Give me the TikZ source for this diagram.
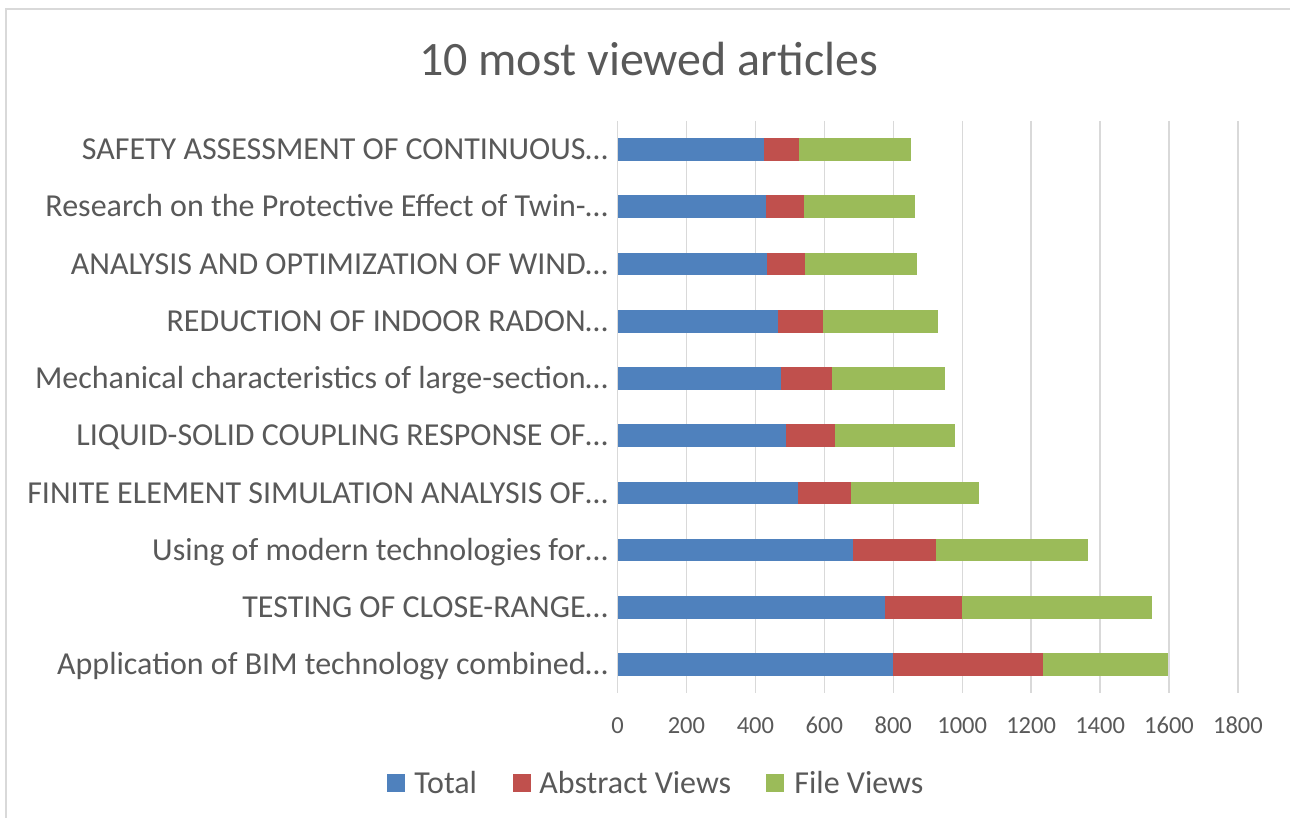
\documentclass[tikz,border=0pt]{standalone}
\usepackage{fontspec}
\setmainfont{Carlito}
\usepackage{xcolor}
\usepackage{tikz}
\usetikzlibrary{positioning}

\definecolor{total}{HTML}{4F81BD}
\definecolor{abstract}{HTML}{C0504D}
\definecolor{fileviews}{HTML}{9BBB59}
\definecolor{txtgray}{HTML}{595959}
\definecolor{gridgray}{HTML}{D9D9D9}

\begin{document}
\begin{tikzpicture}[
    x=1pt, y=-1pt,
    title/.style={
        anchor=base, text=txtgray, inner sep=0pt,
        font=\fontsize{48}{52}\selectfont
    },
    catlabel/.style={
        anchor=base east, xshift=-9.5pt, text=txtgray, inner sep=0pt,
        font=\fontsize{32}{38}\selectfont
    },
    tick/.style={
        anchor=base, text=txtgray, inner sep=0pt,
        font=\fontsize{24.5}{28}\selectfont
    },
    key/.style={
        rectangle, minimum size=18pt, inner sep=0pt
    },
    keytext/.style={
        anchor=west, text=txtgray, inner sep=0pt,
        font=\fontsize{32}{36}\selectfont
    },
    grid/.style={
        draw=gridgray, line width=1.3pt
    }
]
\useasboundingbox (0,0) rectangle (1290,818);

% Frame
\draw[gridgray, line width=1.5pt] (6,818) -- (6,9) -- (1290,9);

% Title
\node[title] (title) at (648.5,76) {10 most viewed articles};

\begin{scope}[shift={(617.5,0)}, x=0.3447pt]

% Grid lines
\draw[grid] (0,121) -- (0,693);
\draw[grid] (200,121) -- (200,693);
\draw[grid] (400,121) -- (400,693);
\draw[grid] (600,121) -- (600,693);
\draw[grid] (800,121) -- (800,693);
\draw[grid] (1000,121) -- (1000,693);
\draw[grid] (1200,121) -- (1200,693);
\draw[grid] (1400,121) -- (1400,693);
\draw[grid] (1600,121) -- (1600,693);
\draw[grid] (1800,121) -- (1800,693);

% Axis numbers
\node[tick] (t0) at (0,733) {0};
\node[tick] (t200) at (200,733) {200};
\node[tick] (t400) at (400,733) {400};
\node[tick] (t600) at (600,733) {600};
\node[tick] (t800) at (800,733) {800};
\node[tick] (t1000) at (1000,733) {1000};
\node[tick] (t1200) at (1200,733) {1200};
\node[tick] (t1400) at (1400,733) {1400};
\node[tick] (t1600) at (1600,733) {1600};
\node[tick] (t1800) at (1800,733) {1800};

% Bars: total, abstract views, file views
\fill[total] (0,138.3) rectangle (425,160.9);
\fill[abstract] (425,138.3) rectangle (527,160.9);
\fill[fileviews] (527,138.3) rectangle (850,160.9);

\fill[total] (0,195.5) rectangle (431,218.1);
\fill[abstract] (431,195.5) rectangle (540,218.1);
\fill[fileviews] (540,195.5) rectangle (862,218.1);

\fill[total] (0,252.7) rectangle (435,275.3);
\fill[abstract] (435,252.7) rectangle (543,275.3);
\fill[fileviews] (543,252.7) rectangle (870,275.3);

\fill[total] (0,309.9) rectangle (465,332.5);
\fill[abstract] (465,309.9) rectangle (597,332.5);
\fill[fileviews] (597,309.9) rectangle (930,332.5);

\fill[total] (0,367.1) rectangle (475,389.7);
\fill[abstract] (475,367.1) rectangle (623,389.7);
\fill[fileviews] (623,367.1) rectangle (950,389.7);

\fill[total] (0,424.3) rectangle (490,446.9);
\fill[abstract] (490,424.3) rectangle (630,446.9);
\fill[fileviews] (630,424.3) rectangle (980,446.9);

\fill[total] (0,481.5) rectangle (524,504.1);
\fill[abstract] (524,481.5) rectangle (678,504.1);
\fill[fileviews] (678,481.5) rectangle (1048,504.1);

\fill[total] (0,538.7) rectangle (682,561.3);
\fill[abstract] (682,538.7) rectangle (925,561.3);
\fill[fileviews] (925,538.7) rectangle (1364,561.3);

\fill[total] (0,595.9) rectangle (775,618.5);
\fill[abstract] (775,595.9) rectangle (1000,618.5);
\fill[fileviews] (1000,595.9) rectangle (1550,618.5);

\fill[total] (0,653.1) rectangle (798,675.7);
\fill[abstract] (798,653.1) rectangle (1234,675.7);
\fill[fileviews] (1234,653.1) rectangle (1596,675.7);

% Article names
\node[catlabel] (safety) at (0,159.8) {SAFETY ASSESSMENT OF CONTINUOUS…};
\node[catlabel] (research) at (0,217.0) {Research on the Protective Effect of Twin-…};
\node[catlabel] (analysis) at (0,274.2) {ANALYSIS AND OPTIMIZATION OF WIND…};
\node[catlabel] (radon) at (0,331.4) {REDUCTION OF INDOOR RADON…};
\node[catlabel] (mechanical) at (0,388.6) {Mechanical characteristics of large-section…};
\node[catlabel] (liquid) at (0,445.8) {LIQUID-SOLID COUPLING RESPONSE OF…};
\node[catlabel] (finite) at (0,503.0) {FINITE ELEMENT SIMULATION ANALYSIS OF…};
\node[catlabel] (modern) at (0,560.2) {Using of modern technologies for…};
\node[catlabel] (testing) at (0,617.4) {TESTING OF CLOSE-RANGE…};
\node[catlabel] (bim) at (0,674.6) {Application of BIM technology combined…};

\end{scope}

% Legend
\node[key, fill=total] (ktotal) at (396,783) {};
\node[keytext, right=9pt of ktotal] (ltotal) {Total};
\node[key, fill=abstract] (kabstract) at (522,783) {};
\node[keytext, right=8pt of kabstract] (labstract) {Abstract Views};
\node[key, fill=fileviews] (kfile) at (775,783) {};
\node[keytext, right=10pt of kfile] (lfile) {File Views};

\end{tikzpicture}
\end{document}
